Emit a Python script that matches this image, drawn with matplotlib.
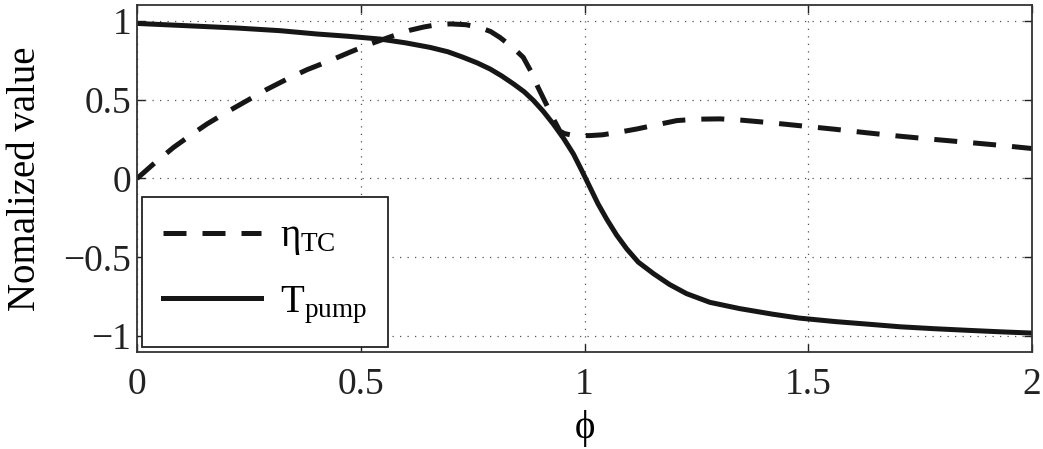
import numpy as np
import matplotlib
matplotlib.use("Agg")
import matplotlib.pyplot as plt

# efficiency curve eta_TC vs phi
phi_eta = [0.0, 0.04, 0.082, 0.12, 0.156, 0.2, 0.246, 0.29, 0.335, 0.38, 0.431, 0.475,
           0.52, 0.573, 0.61, 0.64, 0.67, 0.70, 0.735, 0.766, 0.79, 0.811, 0.84, 0.863,
           0.88, 0.896, 0.913, 0.93, 0.945, 0.955, 0.97, 0.99, 1.012, 1.04, 1.07, 1.117,
           1.16, 1.206, 1.25, 1.303, 1.35, 1.41, 1.48, 1.56, 1.63, 1.705, 1.78,
           1.86, 1.93, 2.0]
eta_tc = [0.0, 0.1, 0.198, 0.275, 0.345, 0.42, 0.494, 0.565, 0.63, 0.69, 0.747, 0.80,
          0.852, 0.905, 0.94, 0.96, 0.975, 0.98, 0.975, 0.957, 0.932, 0.894, 0.83, 0.768,
          0.68, 0.578, 0.48, 0.38, 0.30, 0.285, 0.276, 0.272, 0.272, 0.277, 0.29, 0.314,
          0.34, 0.367, 0.376, 0.378, 0.37, 0.355, 0.335, 0.312, 0.29,
          0.268, 0.248, 0.228, 0.21, 0.19]

# pump torque curve T_pump vs phi
phi_t = [0.0, 0.1, 0.223, 0.32, 0.402, 0.47, 0.543, 0.6, 0.655, 0.695, 0.729, 0.76,
         0.789, 0.815, 0.841, 0.865, 0.886, 0.908, 0.93, 0.953, 0.975, 0.993, 1.012,
         1.03, 1.05, 1.072, 1.094, 1.12, 1.154, 1.19, 1.228, 1.28, 1.347, 1.42, 1.48,
         1.56, 1.64, 1.705, 1.78, 1.86, 1.93, 2.0]
t_pump = [0.983, 0.97, 0.954, 0.937, 0.916, 0.902, 0.884, 0.86, 0.831, 0.803, 0.768, 0.733,
          0.694, 0.65, 0.60, 0.55, 0.494, 0.425, 0.346, 0.255, 0.156, 0.055, -0.055,
          -0.16, -0.26, -0.36, -0.445, -0.53, -0.603, -0.672, -0.73, -0.785, -0.825,
          -0.86, -0.885, -0.907, -0.925, -0.94, -0.952, -0.963, -0.972, -0.98]

x_ticks = [0, 0.5, 1, 1.5, 2]
x_tick_labels = ["0", "0.5", "1", "1.5", "2"]
y_ticks = [-1, -0.5, 0, 0.5, 1]
y_tick_labels = ["\u22121", "\u22120.5", "0", "0.5", "1"]

plt.rcParams["font.family"] = ["Liberation Serif", "DejaVu Serif"]
plt.rcParams["mathtext.fontset"] = "custom"
plt.rcParams["mathtext.rm"] = "Liberation Serif"
plt.rcParams["mathtext.it"] = "Liberation Serif"
plt.rcParams["mathtext.bf"] = "Liberation Serif:bold"

fig = plt.figure(figsize=(10.43, 4.49), dpi=100)
ax = fig.add_axes([0.1314, 0.216, 0.8581, 0.7729])

ink = "#161616"
ax.plot(phi_eta, eta_tc, color=ink, lw=3.6, ls=(0, (4.6, 3.2)),
        solid_joinstyle="round", label=r"$\eta_{\mathrm{TC}}$")
ax.plot(phi_t, t_pump, color=ink, lw=3.6, ls="-",
        solid_joinstyle="round", label=r"$\mathrm{T}_{\mathrm{pump}}$")

ax.set_xlim(0, 2)
ax.set_ylim(-1.1, 1.1)
ax.set_xticks(x_ticks)
ax.set_xticklabels(x_tick_labels)
ax.set_yticks(y_ticks)
ax.set_yticklabels(y_tick_labels)
ax.tick_params(direction="in", top=True, right=True, length=6, width=1.0,
               labelsize=27, colors="#222222")
ax.tick_params(axis="x", pad=11)
ax.tick_params(axis="y", pad=4)
ax.grid(True, ls=(0, (1, 5)), color="#555555", lw=0.9)
for sp in ax.spines.values():
    sp.set_linewidth(1.3)
    sp.set_color("#333333")

ax.set_xlabel("\u03d5", fontsize=28, labelpad=6)
ax.set_ylabel("Nomalized value", fontsize=28, labelpad=14)

leg = ax.legend(loc="lower left", bbox_to_anchor=(0.0056, 0.0144), fontsize=28,
                handlelength=2.5, handletextpad=0.5, labelspacing=0.68,
                borderpad=0.55, borderaxespad=0.0, fancybox=False,
                framealpha=1.0)
leg.get_frame().set_edgecolor("#222222")
leg.get_frame().set_linewidth(1.3)

fig.savefig("out.png", dpi=100)
